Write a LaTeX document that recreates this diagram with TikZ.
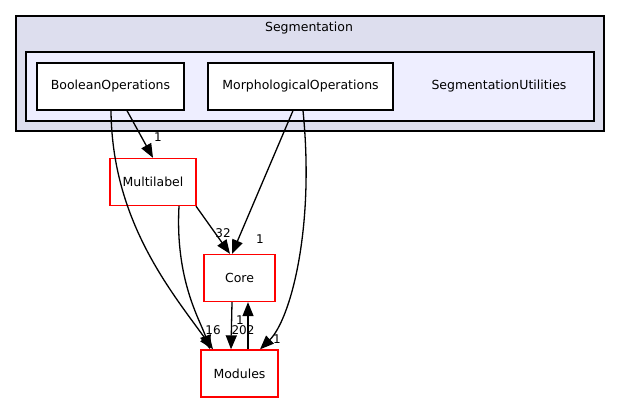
\documentclass[tikz,border=0pt]{standalone}
\usepackage{fontspec}
\setmainfont{DejaVu Sans}
\usetikzlibrary{arrows.meta}
\definecolor{outerc}{HTML}{DDDEEE}
\definecolor{innerc}{HTML}{EEEEFF}
\begin{document}
\begin{tikzpicture}[x=1pt,y=-1pt,
  box/.style={draw,fill=white,minimum height=47pt,inner sep=0pt,line width=1.3pt,font=\fontsize{12.5}{14}\selectfont},
  rbox/.style={box,draw=red},
  edge/.style={-{Triangle[length=14pt,width=11pt]},line width=1.3pt},
  lab/.style={font=\fontsize{12}{14}\selectfont,inner sep=0pt}]
\useasboundingbox (0,0) rectangle (620,404);
\draw[line width=1.3pt,fill=outerc] (16,16) rectangle (604,131);
\node[font=\fontsize{12.5}{14}\selectfont] (segt) at (309,28) {Segmentation};
\draw[line width=1.3pt,fill=innerc] (26,52) rectangle (594,121);
\node[font=\fontsize{12.5}{14}\selectfont] (sut) at (499,86) {SegmentationUtilities};
\node[box,minimum width=147pt] (bo) at (110.5,86.5) {BooleanOperations};
\node[box,minimum width=185pt] (mo) at (300.5,86.5) {MorphologicalOperations};
\node[rbox,minimum width=86pt] (ml) at (153,182) {Multilabel};
\node[rbox,minimum width=71pt] (core) at (239.5,278) {Core};
\node[rbox,minimum width=77pt] (mod) at (239.5,373.5) {Modules};
\draw[edge] (bo.south -| 127,0) -- (ml.north -| 153,0);
\node[lab] (l0) at (158,137) {1};
\draw[edge] (bo.south -| 111,0) .. controls (112,220) and (170,290) .. (mod.north -| 213,0);
\draw[edge] (mo.south -| 293,0) -- (core.north -| 232,0);
\node[lab] (l1) at (260,239) {1};
\draw[edge] (mo.south -| 303,0) .. controls (315,230) and (290,320) .. (mod.north -| 260,0);
\node[lab] (l2) at (277,339) {1};
\draw[edge] (ml.south -| 179,0) .. controls (175,280) and (200,320) .. (mod.north -| 210,0);
\draw[edge] (ml.south -| 196,0) -- (core.north -| 230,0);
\node[lab] (l3) at (223,233) {32};
\node[lab] (l4) at (213,330) {16};
\draw[edge] (core.south -| 232,0) -- (mod.north -| 231,0);
\node[lab] (l5) at (243,330) {202};
\draw[edge] (mod.north -| 248,0) -- (core.south -| 248,0);
\node[lab] (l6) at (240,320) {1};
\end{tikzpicture}
\end{document}
